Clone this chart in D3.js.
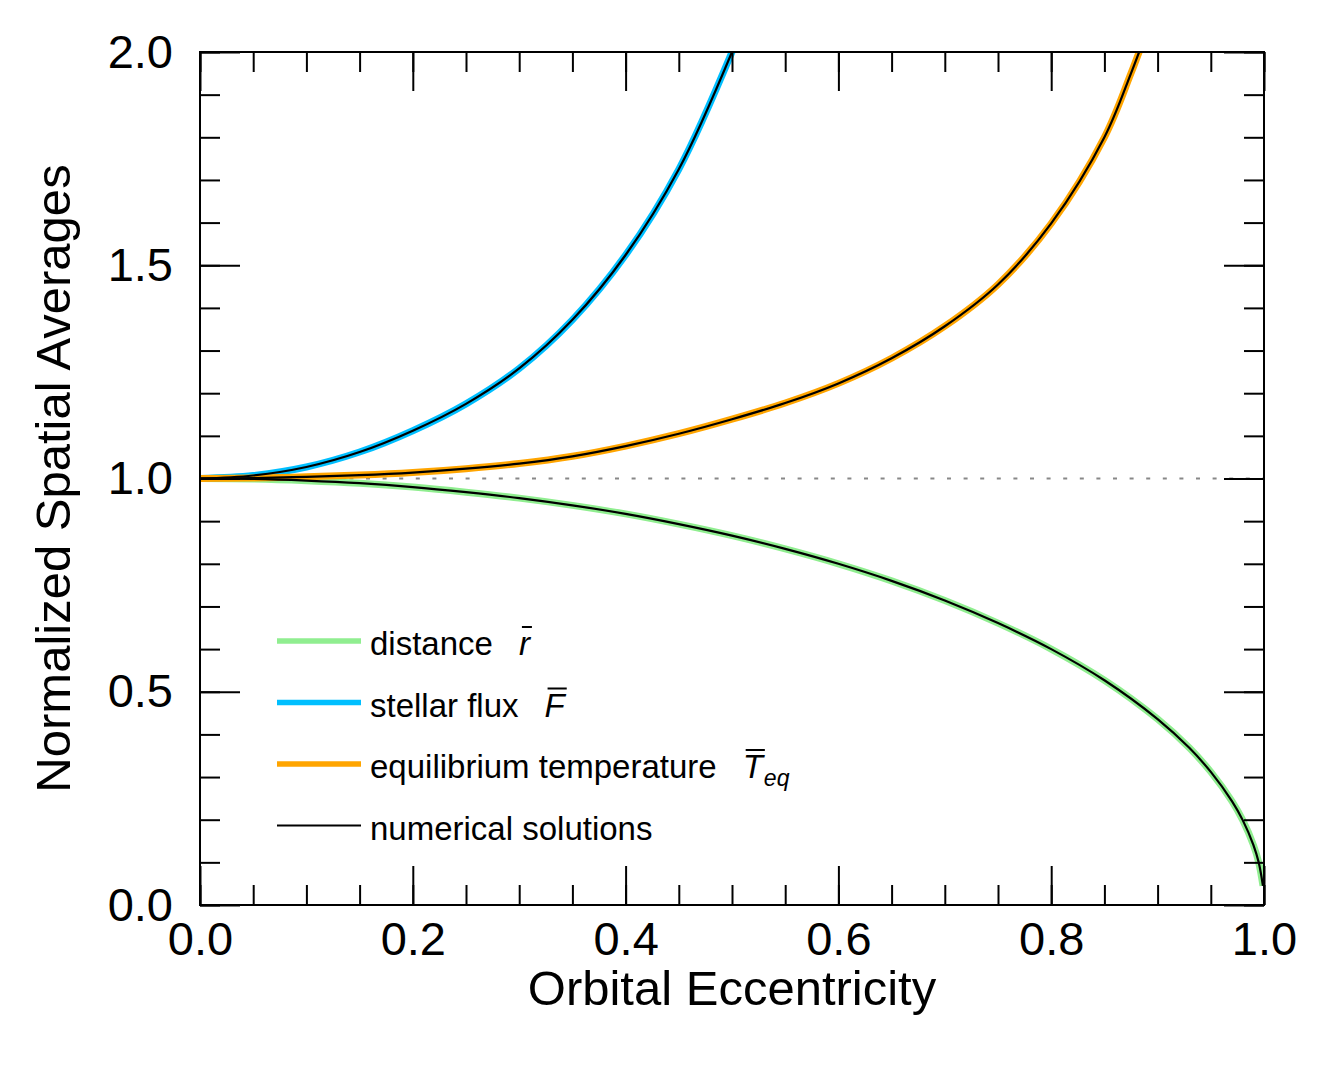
<!DOCTYPE html>
<html>
<head>
<meta charset="utf-8">
<script src="https://cdn.jsdelivr.net/npm/d3@7"></script>
<style>
  body { margin: 0; background: #fff; }
  svg text { font-family: "Liberation Sans", Arial, Helvetica, sans-serif; fill: #000; }
</style>
</head>
<body>
<div id="chart"></div>
<script>
// eccentricity samples and curve values
const eccDistance = [0, 0.05, 0.1, 0.15, 0.2, 0.25, 0.3, 0.35, 0.4, 0.45, 0.5, 0.55, 0.6, 0.65, 0.7, 0.75, 0.8, 0.85, 0.9, 0.93, 0.95, 0.97, 0.98, 0.99, 0.995, 0.999];
const distanceValues = [1.0, 0.999, 0.995, 0.989, 0.98, 0.968, 0.954, 0.937, 0.917, 0.893, 0.866, 0.835, 0.8, 0.76, 0.714, 0.661, 0.6, 0.527, 0.436, 0.368, 0.312, 0.243, 0.199, 0.141, 0.1, 0.045];

const eccFlux = [0, 0.05, 0.1, 0.15, 0.2, 0.25, 0.3, 0.35, 0.4, 0.45, 0.5, 0.51];
const fluxValues = [1.0, 1.007, 1.027, 1.062, 1.112, 1.175, 1.258, 1.372, 1.524, 1.725, 2.0, 2.065];

const eccTemp = [0, 0.05, 0.1, 0.15, 0.2, 0.25, 0.3, 0.35, 0.4, 0.45, 0.5, 0.55, 0.6, 0.65, 0.7, 0.75, 0.8, 0.85, 0.875, 0.89];
const tempValues = [1.0, 1.001, 1.004, 1.008, 1.014, 1.023, 1.035, 1.052, 1.076, 1.105, 1.139, 1.177, 1.223, 1.282, 1.357, 1.455, 1.598, 1.8, 1.95, 2.05];

const xMajorTicks = [0, 0.2, 0.4, 0.6, 0.8, 1.0];
const xMinorTicks = d3.range(0, 1.0001, 0.05).map((d) => +d.toFixed(2));
const yMajorTicks = [0, 0.5, 1.0, 1.5, 2.0];
const yMinorTicks = d3.range(0, 2.0001, 0.1).map((d) => +d.toFixed(1));

const legendItems = [
  { label: "distance", symbol: "r", sub: "", color: "#90ee90", thick: true },
  { label: "stellar flux", symbol: "F", sub: "", color: "#00bfff", thick: true },
  { label: "equilibrium temperature", symbol: "T", sub: "eq", color: "#ffa500", thick: true },
  { label: "numerical solutions", symbol: "", sub: "", color: "#000", thick: false },
];

const width = 1332;
const height = 1065;
const margin = { top: 52, right: 68, bottom: 160, left: 200 };
const innerWidth = width - margin.left - margin.right;
const innerHeight = height - margin.top - margin.bottom;

const svg = d3
  .select("#chart")
  .append("svg")
  .attr("width", width)
  .attr("height", height);

const g = svg.append("g").attr("transform", `translate(${margin.left},${margin.top})`);

const x = d3.scaleLinear().domain([0, 1]).range([0, innerWidth]);
const y = d3.scaleLinear().domain([0, 2]).range([innerHeight, 0]);

g.append("clipPath")
  .attr("id", "plot-clip")
  .append("rect")
  .attr("width", innerWidth)
  .attr("height", innerHeight);

// reference line at 1.0
g.append("line")
  .attr("x1", x(0))
  .attr("x2", x(1))
  .attr("y1", y(1))
  .attr("y2", y(1))
  .attr("stroke", "#888")
  .attr("stroke-width", 2)
  .attr("stroke-dasharray", "4,12.6");

const line = d3
  .line()
  .x((d) => x(d[0]))
  .y((d) => y(d[1]))
  .curve(d3.curveCatmullRom.alpha(0.5));

const series = [
  { ecc: eccDistance, vals: distanceValues, color: "#90ee90" },
  { ecc: eccFlux, vals: fluxValues, color: "#00bfff" },
  { ecc: eccTemp, vals: tempValues, color: "#ffa500" },
];

const curves = g.append("g").attr("clip-path", "url(#plot-clip)");
series.forEach((s) => {
  const pts = s.ecc.map((e, i) => [e, s.vals[i]]);
  curves.append("path")
    .attr("d", line(pts))
    .attr("fill", "none")
    .attr("stroke", s.color)
    .attr("stroke-width", 7);
});
series.forEach((s) => {
  const pts = s.ecc.map((e, i) => [e, s.vals[i]]);
  curves.append("path")
    .attr("d", line(pts))
    .attr("fill", "none")
    .attr("stroke", "#000")
    .attr("stroke-width", 2.2);
});

// axes: ticks point inward on all four sides
function styleAxis(sel) {
  sel.select(".domain").remove();
  sel.selectAll(".tick line").attr("stroke", "#000").attr("stroke-width", 2);
  sel.selectAll("text").filter(function () { return this.textContent === ""; }).remove();
  sel.selectAll("text").attr("font-size", 47).attr("fill", "#000");
}

g.append("g")
  .attr("transform", `translate(0,${innerHeight})`)
  .call(d3.axisBottom(x).tickValues(xMinorTicks).tickSize(-20).tickFormat(""))
  .call(styleAxis);
g.append("g")
  .attr("transform", `translate(0,${innerHeight})`)
  .call(d3.axisBottom(x).tickValues(xMajorTicks).tickSize(-39).tickPadding(17).tickFormat(d3.format(".1f")))
  .call(styleAxis);
g.append("g")
  .call(d3.axisTop(x).tickValues(xMinorTicks).tickSize(-20).tickFormat(""))
  .call(styleAxis);
g.append("g")
  .call(d3.axisTop(x).tickValues(xMajorTicks).tickSize(-39).tickFormat(""))
  .call(styleAxis);

g.append("g")
  .call(d3.axisLeft(y).tickValues(yMinorTicks).tickSize(-20).tickFormat(""))
  .call(styleAxis);
g.append("g")
  .call(d3.axisLeft(y).tickValues(yMajorTicks).tickSize(-40).tickPadding(27).tickFormat(d3.format(".1f")))
  .call(styleAxis);
g.append("g")
  .attr("transform", `translate(${innerWidth},0)`)
  .call(d3.axisRight(y).tickValues(yMinorTicks).tickSize(-20).tickFormat(""))
  .call(styleAxis);
g.append("g")
  .attr("transform", `translate(${innerWidth},0)`)
  .call(d3.axisRight(y).tickValues(yMajorTicks).tickSize(-40).tickFormat(""))
  .call(styleAxis);

// frame
g.append("rect")
  .attr("width", innerWidth)
  .attr("height", innerHeight)
  .attr("fill", "none")
  .attr("stroke", "#000")
  .attr("stroke-width", 2);

// axis titles
svg.append("text")
  .attr("x", margin.left + innerWidth / 2)
  .attr("y", 1005)
  .attr("text-anchor", "middle")
  .attr("font-size", 49)
  .text("Orbital Eccentricity");

svg.append("text")
  .attr("transform", `translate(70,${margin.top + innerHeight / 2}) rotate(-90)`)
  .attr("text-anchor", "middle")
  .attr("font-size", 49)
  .text("Normalized Spatial Averages");

// legend
const legend = svg.append("g").attr("transform", "translate(277,641)");
const rowGap = 61.5;
legendItems.forEach((item, i) => {
  const row = legend.append("g").attr("transform", `translate(0,${i * rowGap})`);
  row.append("line")
    .attr("x1", 0)
    .attr("x2", 84)
    .attr("stroke", item.color)
    .attr("stroke-width", item.thick ? 5.5 : 2);
  const label = row.append("text")
    .attr("x", 93)
    .attr("y", 14)
    .attr("font-size", 33)
    .text(item.label);
  if (item.symbol) {
    const lw = label.node().getComputedTextLength();
    const sx = 93 + lw + 26;
    const sym = row.append("text")
      .attr("x", sx)
      .attr("y", 14)
      .attr("font-size", 33)
      .attr("font-style", "italic")
      .text(item.symbol);
    const sw = sym.node().getComputedTextLength();
    row.append("line")
      .attr("x1", sx + 3)
      .attr("x2", sx + sw + 2)
      .attr("y1", -14)
      .attr("y2", -14)
      .attr("stroke", "#000")
      .attr("stroke-width", 2);
    if (item.sub) {
      row.append("text")
        .attr("x", sx + sw + 1)
        .attr("y", 22)
        .attr("font-size", 23)
        .attr("font-style", "italic")
        .text(item.sub);
    }
  }
});
</script>
</body>
</html>
